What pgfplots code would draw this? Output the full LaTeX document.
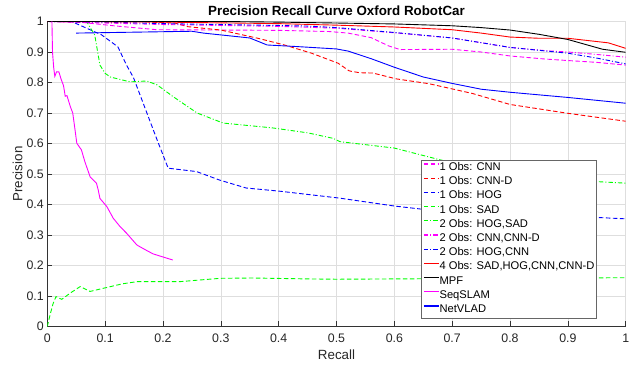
\documentclass[border=0pt]{standalone}
\usepackage{pgfplots}
\pgfplotsset{compat=1.18}
\usepackage{fontspec}
\setmainfont{Liberation Sans}
\definecolor{mag}{rgb}{1,0,1}
\definecolor{grn}{rgb}{0,1,0}
\definecolor{blu}{rgb}{0,0,1}
\definecolor{rd}{rgb}{1,0,0}
\begin{document}
\begin{tikzpicture}
\useasboundingbox (-47.3bp,-42.5bp) rectangle (591.7bp,326.5bp);
\begin{axis}[
  at={(0,0)}, anchor=south west,
  scale only axis, width=578.4bp, height=305bp,
  xmin=0, xmax=1, ymin=0, ymax=1,
  xtick={0,0.1,0.2,0.3,0.4,0.5,0.6,0.7,0.8,0.9,1},
  ytick={0,0.1,0.2,0.3,0.4,0.5,0.6,0.7,0.8,0.9,1},
  /pgf/number format/assume math mode=true,
  /pgf/number format/fixed,
  grid=major, major grid style={black!13, line width=0.6bp},
  axis x line*=bottom, axis y line*=left,
  axis line style={black!80, line width=0.6bp, -},
  tick style={black!80, line width=0.6bp},
  tick align=inside, major tick length=5bp,
  ticklabel style={font=\fontsize{12.4}{13}\selectfont, text=black!85},
  xticklabel style={yshift=-4bp},
  title={\bfseries Precision Recall Curve Oxford RobotCar},
  every axis title/.style={at={(axis description cs:0.5,1)}, anchor=base, yshift=5.8bp},
  title style={font=\fontsize{13.4}{14}\selectfont, text=black},
  xlabel={Recall},
  xlabel style={at={(axis description cs:0.5,0)}, anchor=base, yshift=-32.5bp, font=\fontsize{13.4}{14}\selectfont, text=black!85},
  ylabel={Precision},
  ylabel style={at={(axis description cs:0,0.5)}, anchor=base, yshift=25bp, font=\fontsize{13.4}{14}\selectfont, text=black!85},
  legend style={name=leg, at={(axis description cs:0.6462,0.546)}, anchor=north west,
    draw=none, fill=white,
    font=\fontsize{11.2}{12}\selectfont,
    inner xsep=2bp, inner ysep=2bp, row sep=2.6bp, column sep=0bp,
    nodes={inner xsep=0bp, inner ysep=0bp, text height=8.3bp, text depth=3.3bp},
    cells={anchor=west}},
  legend image code/.code={\draw[#1, line width=1.3bp] (0bp,4bp) -- (15bp,4bp);},
  every axis plot/.append style={line width=0.9bp},
]
% 1 Obs: CNN
\addplot[color=mag, dash pattern=on 4.5bp off 2.5bp] coordinates {
(0,1) (0.06,0.997) (0.12,0.985) (0.19,0.973) (0.3,0.972) (0.4,0.971) (0.488,0.967) (0.52,0.962) (0.56,0.947) (0.59,0.92) (0.61,0.908) (0.7,0.909) (0.75,0.9) (0.8,0.887) (0.86,0.877) (0.9,0.872) (0.95,0.866) (1,0.857)};
\addlegendentry{1 Obs: CNN}
% 1 Obs: CNN-D
\addplot[color=rd, dash pattern=on 4.5bp off 2.5bp] coordinates {
(0,1) (0.15,1) (0.22,0.995) (0.243,0.983) (0.3,0.972) (0.364,0.945) (0.41,0.923) (0.457,0.896) (0.503,0.863) (0.522,0.838) (0.54,0.832) (0.563,0.831) (0.603,0.812) (0.66,0.796) (0.735,0.764) (0.8,0.728) (0.9,0.699) (1,0.673)};
\addlegendentry{1 Obs: CNN-D}
% 1 Obs: HOG
\addplot[color=blu, dash pattern=on 4.5bp off 2.5bp] coordinates {
(0,1) (0.042,1) (0.094,0.956) (0.122,0.917) (0.137,0.857) (0.149,0.816) (0.189,0.616) (0.209,0.519) (0.258,0.508) (0.298,0.48) (0.344,0.454) (0.40,0.444) (0.505,0.421) (0.6,0.395) (0.66,0.382) (0.8,0.37) (0.9,0.362) (1,0.353)};
\addlegendentry{1 Obs: HOG}
% 1 Obs: SAD
\addplot[color=grn, dash pattern=on 4.5bp off 2.5bp] coordinates {
(0,0) (0.005,0.04) (0.01,0.075) (0.015,0.098) (0.025,0.089) (0.04,0.11) (0.057,0.131) (0.074,0.115) (0.103,0.128) (0.13,0.14) (0.155,0.147) (0.189,0.147) (0.229,0.147) (0.299,0.158) (0.356,0.159) (0.45,0.156) (0.5,0.155) (0.6,0.156) (0.8,0.158) (1,0.16)};
\addlegendentry{1 Obs: SAD}
% 2 Obs: HOG,SAD
\addplot[color=grn, dash pattern=on 4.5bp off 2bp on 1bp off 2bp] coordinates {
(0,1) (0.068,1) (0.082,0.956) (0.091,0.857) (0.1,0.83) (0.109,0.818) (0.143,0.802) (0.172,0.805) (0.19,0.792) (0.218,0.753) (0.259,0.7) (0.304,0.667) (0.39,0.651) (0.45,0.635) (0.494,0.617) (0.506,0.606) (0.6,0.585) (0.68,0.546) (0.72,0.53) (0.8,0.5) (0.9,0.478) (0.95,0.475) (1,0.47)};
\addlegendentry{2 Obs: HOG,SAD}
% 2 Obs: CNN,CNN-D
\addplot[color=mag, dash pattern=on 4.5bp off 2bp on 1bp off 2bp] coordinates {
(0,1) (0.1,0.995) (0.2,0.99) (0.3,0.987) (0.4,0.984) (0.5,0.978) (0.6,0.963) (0.7,0.946) (0.8,0.915) (0.864,0.904) (0.9,0.9) (0.95,0.892) (1,0.883)};
\addlegendentry{2 Obs: CNN,CNN-D}
% 2 Obs: HOG,CNN
\addplot[color=blu, dash pattern=on 4.5bp off 2bp on 1bp off 2bp] coordinates {
(0,1) (0.1,0.998) (0.2,0.993) (0.3,0.99) (0.4,0.987) (0.45,0.985) (0.5,0.98) (0.6,0.964) (0.7,0.946) (0.8,0.915) (0.9,0.896) (0.95,0.88) (1,0.861)};
\addlegendentry{2 Obs: HOG,CNN}
% 4 Obs
\addplot[color=rd, solid] coordinates {
(0,1) (0.2,0.998) (0.4,0.993) (0.5,0.988) (0.6,0.982) (0.7,0.973) (0.75,0.962) (0.8,0.949) (0.85,0.945) (0.9,0.945) (0.97,0.93) (1,0.912)};
\addlegendentry{4 Obs: SAD,HOG,CNN,CNN-D}
% MPF
\addplot[color=black, solid] coordinates {
(0,1) (0.3,1) (0.4,0.998) (0.5,0.995) (0.6,0.992) (0.7,0.986) (0.75,0.98) (0.8,0.972) (0.85,0.958) (0.9,0.941) (0.96,0.909) (1,0.899)};
\addlegendentry{MPF}
% SeqSLAM
\addplot[color=mag, solid] coordinates {
(0.008,1) (0.009,0.9) (0.011,0.85) (0.013,0.82) (0.016,0.835) (0.02,0.835) (0.024,0.81) (0.028,0.79) (0.031,0.755) (0.034,0.757) (0.04,0.72) (0.044,0.7) (0.048,0.644) (0.051,0.601) (0.059,0.579) (0.065,0.54) (0.074,0.491) (0.085,0.47) (0.088,0.448) (0.091,0.42) (0.103,0.393) (0.114,0.355) (0.126,0.327) (0.137,0.306) (0.155,0.267) (0.172,0.249) (0.183,0.238) (0.217,0.218)};
\addlegendentry{SeqSLAM}
% NetVLAD
\addplot[color=blu, solid] coordinates {
(0.05,0.962) (0.15,0.965) (0.25,0.968) (0.27,0.962) (0.3,0.956) (0.35,0.946) (0.38,0.923) (0.43,0.918) (0.5,0.91) (0.52,0.903) (0.56,0.878) (0.6,0.85) (0.65,0.818) (0.7,0.797) (0.75,0.778) (0.8,0.768) (0.9,0.751) (1,0.732)};
\addlegendentry{NetVLAD}
\end{axis}
\draw[black!60, line width=0.6bp] (leg.south west) rectangle (leg.north east);
\end{tikzpicture}
\end{document}
